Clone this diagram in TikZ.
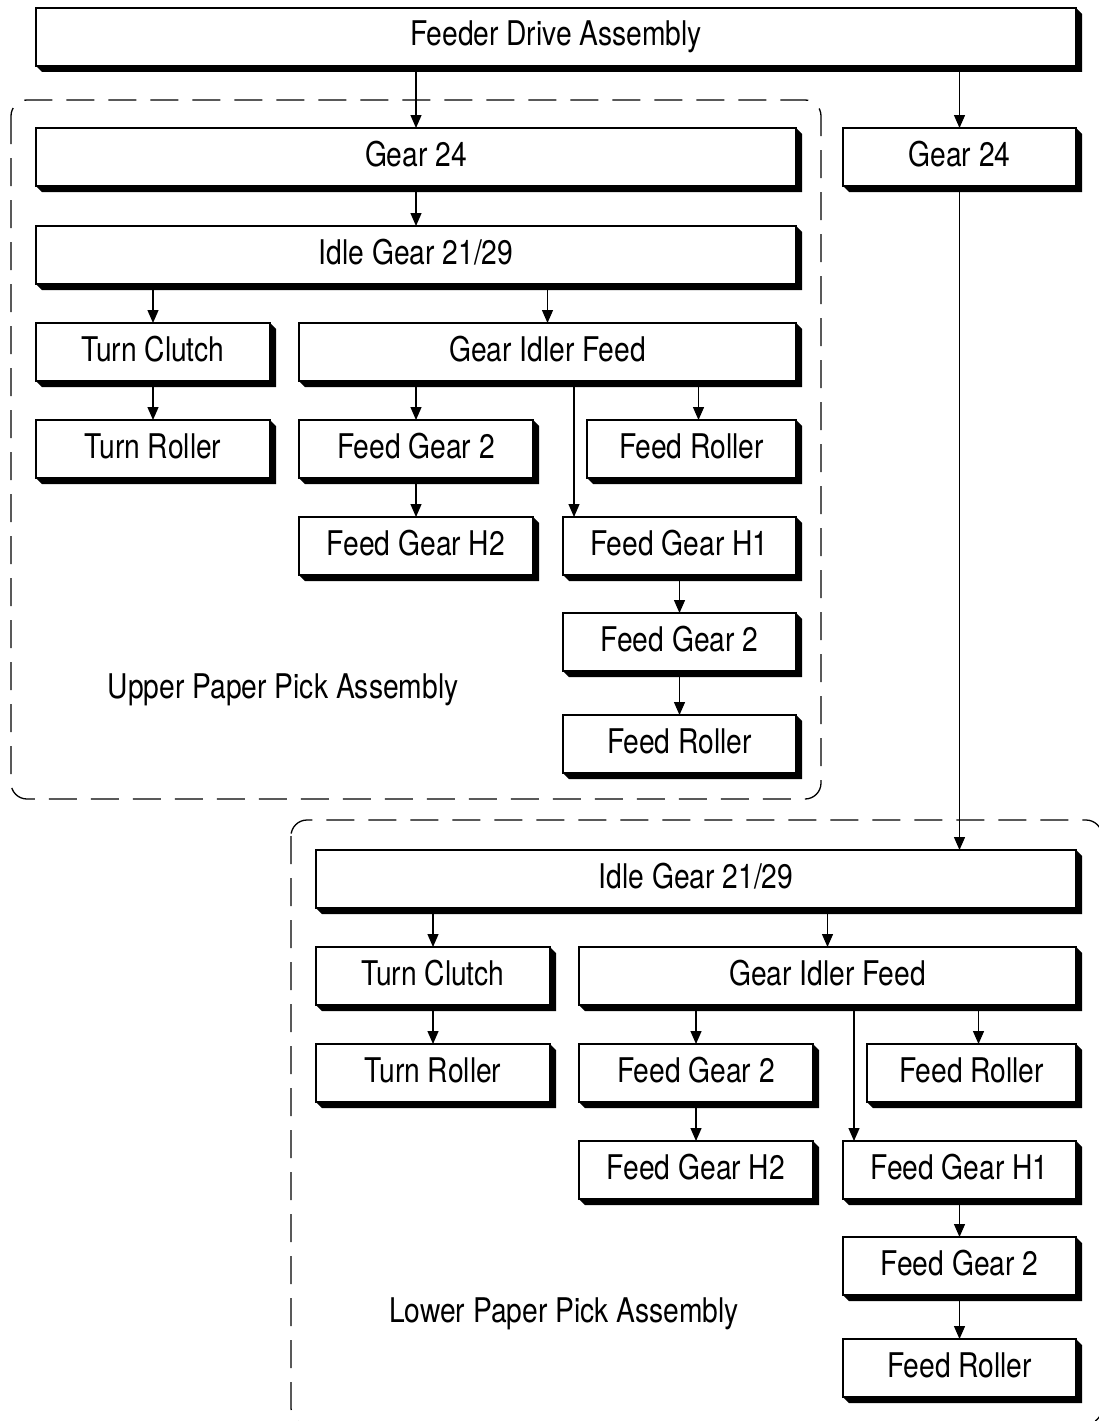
\documentclass[tikz,border=0pt]{standalone}
\usepackage{fontspec}
\setmainfont{TeX Gyre Heros}[FakeStretch=0.83]
\usetikzlibrary{arrows.meta}
\begin{document}
\begin{tikzpicture}[x=1pt,y=-1pt,
  gbox/.style={draw, fill=white, line width=1.6pt, minimum height=58pt, inner sep=0pt, outer sep=0pt,
    anchor=north west, text height=26pt, text depth=8pt, font=\fontsize{34}{36}\selectfont},
  arr/.style={line width=1.3pt, -{Triangle[width=11pt,length=13pt]}},
  frame/.style={line width=1.3pt, dash pattern=on 28pt off 14pt, rounded corners=16pt},
  lab/.style={font=\fontsize{34}{36}\selectfont, inner sep=0pt, anchor=base}]
\useasboundingbox (0,0) rectangle (1099,1421);
\clip (0,0) rectangle (1099,1421);
\fill[white] (0,0) rectangle (1099,1421);
% frames
\draw[frame] (11,100) rectangle (821,799);
\draw[frame] (291,820) rectangle (1102,1424);
% upper boxes
\node[gbox, minimum width=1040pt] (fda) at (36,8) {Feeder Drive Assembly};
\node[gbox, minimum width=760pt] (g24u) at (36,128) {Gear 24};
\node[gbox, minimum width=233pt] (g24r) at (843,128) {Gear 24};
\node[gbox, minimum width=760pt] (idleU) at (36,226) {Idle Gear 21/29};
\node[gbox, minimum width=234pt] (tcU) at (36,323) {Turn Clutch};
\node[gbox, minimum width=497pt] (gifU) at (299,323) {Gear Idler Feed};
\node[gbox, minimum width=234pt] (trU) at (36,420) {Turn Roller};
\node[gbox, minimum width=234pt] (fg2aU) at (299,420) {Feed Gear 2};
\node[gbox, minimum width=209pt] (frU) at (587,420) {Feed Roller};
\node[gbox, minimum width=234pt] (fgh2U) at (299,517) {Feed Gear H2};
\node[gbox, minimum width=233pt] (fgh1U) at (563,517) {Feed Gear H1};
\node[gbox, minimum width=233pt] (fg2bU) at (563,613) {Feed Gear 2};
\node[gbox, minimum width=233pt] (fr2U) at (563,715) {Feed Roller};
% lower boxes
\node[gbox, minimum width=760pt] (idleL) at (316,850) {Idle Gear 21/29};
\node[gbox, minimum width=234pt] (tcL) at (316,947) {Turn Clutch};
\node[gbox, minimum width=497pt] (gifL) at (579,947) {Gear Idler Feed};
\node[gbox, minimum width=234pt] (trL) at (316,1044) {Turn Roller};
\node[gbox, minimum width=234pt] (fg2aL) at (579,1044) {Feed Gear 2};
\node[gbox, minimum width=209pt] (frL) at (867,1044) {Feed Roller};
\node[gbox, minimum width=234pt] (fgh2L) at (579,1141) {Feed Gear H2};
\node[gbox, minimum width=233pt] (fgh1L) at (843,1141) {Feed Gear H1};
\node[gbox, minimum width=233pt] (fg2bL) at (843,1237) {Feed Gear 2};
\node[gbox, minimum width=233pt] (fr2L) at (843,1339) {Feed Roller};
% shadows
\foreach \n in {fda,g24u,g24r,idleU,tcU,gifU,trU,fg2aU,frU,fgh2U,fgh1U,fg2bU,fr2U,
                idleL,tcL,gifL,trL,fg2aL,frL,fgh2L,fgh1L,fg2bL,fr2L}{
  \fill (\n.south west) -- ++(6,6) -- ([shift={(6,6)}]\n.south east)
        -- ([shift={(6,6)}]\n.north east) -- (\n.north east) -- (\n.south east) -- cycle;
}
% entry points off-centre
\coordinate (frUin) at ([xshift=7pt]frU.north);
\coordinate (fgh1Uin) at ([xshift=11pt]fgh1U.north west);
\coordinate (frLin) at ([xshift=7pt]frL.north);
\coordinate (fgh1Lin) at ([xshift=11pt]fgh1L.north west);
% arrows upper
\draw[arr] ([yshift=-6pt]fda.south -| g24u.north) -- (g24u.north);
\draw[arr] ([yshift=-6pt]fda.south -| g24r.north) -- (g24r.north);
\draw[arr] ([yshift=-6pt]g24u.south) -- (idleU.north);
\draw[arr] ([yshift=-6pt]idleU.south -| tcU.north) -- (tcU.north);
\draw[arr] ([yshift=-6pt]idleU.south -| gifU.north) -- (gifU.north);
\draw[arr] ([yshift=-6pt]tcU.south) -- (trU.north);
\draw[arr] ([yshift=-6pt]gifU.south -| fg2aU.north) -- (fg2aU.north);
\draw[arr] ([yshift=-6pt]gifU.south -| frUin) -- (frUin);
\draw[arr] ([yshift=-6pt]gifU.south -| fgh1Uin) -- (fgh1Uin);
\draw[arr] ([yshift=-6pt]fg2aU.south) -- (fgh2U.north);
\draw[arr] ([yshift=-6pt]fgh1U.south) -- (fg2bU.north);
\draw[arr] ([yshift=-6pt]fg2bU.south) -- (fr2U.north);
% link to lower
\draw[arr] ([yshift=-6pt]g24r.south) -- (g24r.south |- idleL.north);
% arrows lower
\draw[arr] ([yshift=-6pt]idleL.south -| tcL.north) -- (tcL.north);
\draw[arr] ([yshift=-6pt]idleL.south -| gifL.north) -- (gifL.north);
\draw[arr] ([yshift=-6pt]tcL.south) -- (trL.north);
\draw[arr] ([yshift=-6pt]gifL.south -| fg2aL.north) -- (fg2aL.north);
\draw[arr] ([yshift=-6pt]gifL.south -| frLin) -- (frLin);
\draw[arr] ([yshift=-6pt]gifL.south -| fgh1Lin) -- (fgh1Lin);
\draw[arr] ([yshift=-6pt]fg2aL.south) -- (fgh2L.north);
\draw[arr] ([yshift=-6pt]fgh1L.south) -- (fg2bL.north);
\draw[arr] ([yshift=-6pt]fg2bL.south) -- (fr2L.north);
% labels
\node[lab] (upl) at (283,698) {Upper Paper Pick Assembly};
\node[lab] (lowl) at (564,1322) {Lower Paper Pick Assembly};
\end{tikzpicture}
\end{document}
